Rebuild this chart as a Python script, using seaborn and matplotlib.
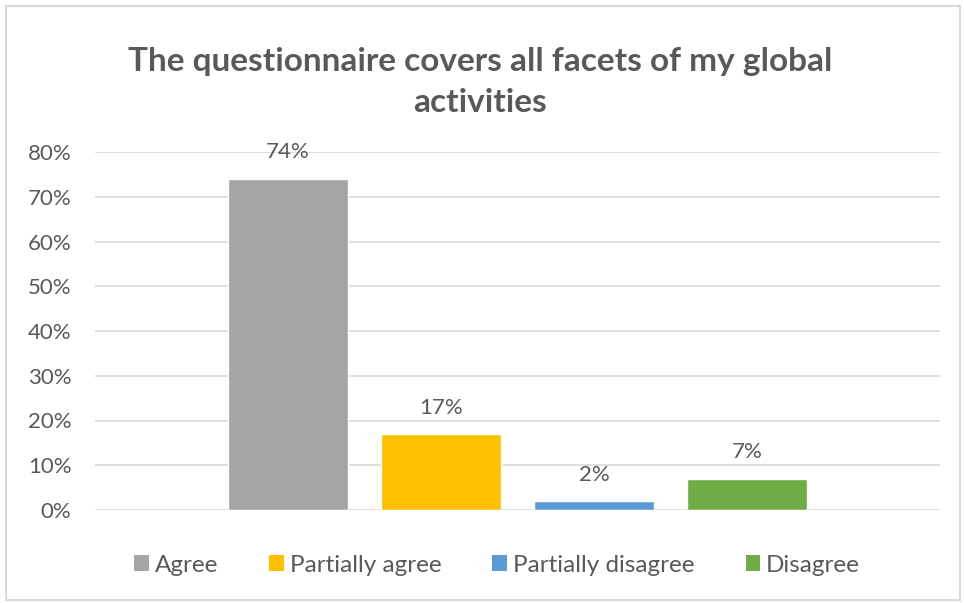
import matplotlib
matplotlib.use("Agg")
import matplotlib.pyplot as plt
import seaborn as sns
import pandas as pd
from matplotlib.patches import Rectangle, Patch

categories = ["Agree", "Partially agree", "Partially disagree", "Disagree"]
values = [0.74, 0.17, 0.02, 0.07]
labels = ["74%", "17%", "2%", "7%"]
colors = ["#A5A5A5", "#FFC000", "#5B9BD5", "#70AD47"]
yticks = [0, 0.1, 0.2, 0.3, 0.4, 0.5, 0.6, 0.7, 0.8]
ytick_labels = ["0%", "10%", "20%", "30%", "40%", "50%", "60%", "70%", "80%"]
title = "The questionnaire covers all facets of my global\nactivities"

sns.set_theme(style="white")
plt.rcParams["font.family"] = ["Lato", "DejaVu Sans"]
txt = "#595959"

df = pd.DataFrame({"cat": categories, "val": values})

W, H = 964, 603
fig = plt.figure(figsize=(W / 100, H / 100), dpi=100)
ax = fig.add_axes([95 / W, 1 - 510 / H, (940 - 95) / W, (510 - 152) / H])

sns.barplot(data=df, x="cat", y="val", hue="cat", palette=colors, order=categories,
            hue_order=categories, width=120 / 153, legend=False, ax=ax, saturation=1)

ax.set_xlim(-1.261, 4.261)
ax.set_ylim(0, 0.8)
ax.set_yticks(yticks)
ax.set_yticklabels(ytick_labels, fontsize=16, color=txt)
ax.set_xticks([])
ax.set_xlabel("")
ax.set_ylabel("")
ax.tick_params(axis="y", length=0, pad=17)
ax.yaxis.grid(True, color="#D9D9D9", linewidth=1.2)
ax.set_axisbelow(True)
for s in ax.spines.values():
    s.set_visible(False)

for i, (v, lab) in enumerate(zip(values, labels)):
    ax.annotate(lab, (i, v), xytext=(0, 19), textcoords="offset points",
                ha="center", va="center", fontsize=16, color=txt)

fig.text(0.498, 1 - 82 / H, title, ha="center", va="center", fontsize=24,
         fontweight="bold", color=txt, linespacing=1.5)

handles = [Patch(facecolor=c, edgecolor="none") for c in colors]
fig.legend(handles, categories, loc="center", bbox_to_anchor=(497 / W, 1 - 565 / H),
           ncol=4, frameon=False, fontsize=17.5, labelcolor=txt,
           handlelength=0.6, handleheight=0.6, handletextpad=0.25, columnspacing=2.1)

fig.patches.append(Rectangle((6 / W, 3 / H), (W - 10) / W, (H - 9) / H,
                             transform=fig.transFigure, fill=False,
                             edgecolor="#D9D9D9", linewidth=1.5))

fig.savefig("out.png", dpi=100, facecolor="white")
